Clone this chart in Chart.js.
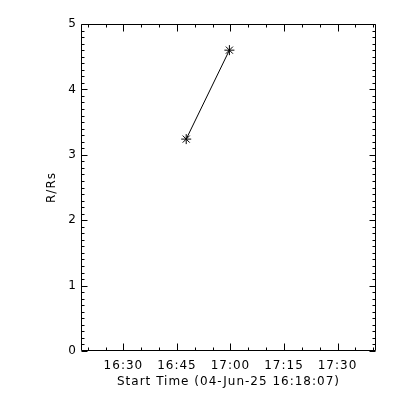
<!DOCTYPE html>
<html>
<head>
<meta charset="utf-8">
<script src="https://cdn.jsdelivr.net/npm/chart.js@4"></script>
<style>
  html, body { margin: 0; padding: 0; background: #fff; }
  canvas { display: block; }
</style>
</head>
<body>
<canvas id="myChart" width="400" height="400"></canvas>
<script>
const START_TIME = '16:18:07';
const END_TIME = '17:40:47';
const TIMES = ['16:47:36', '16:59:42'];
const HEIGHTS = [3.24, 4.6];
const X_LABELS = ['16:30', '16:45', '17:00', '17:15', '17:30'];
const Y_TICKS = [0, 1, 2, 3, 4, 5];
const X_TITLE = 'Start Time (04-Jun-25 16:18:07)';
const Y_TITLE = 'R/Rs';

const FONT = { family: 'DejaVu Sans', size: 12 };

function toSeconds(t) {
  const parts = t.split(':').map(Number);
  return parts[0] * 3600 + parts[1] * 60 + (parts[2] || 0);
}

const START = toSeconds(START_TIME);
const END = toSeconds(END_TIME) - START;
const X_MAJOR = X_LABELS.map((l) => toSeconds(l) - START);

// minor ticks every 5 minutes
let X_MINOR = [];
for (let s = Math.ceil(START / 300) * 300; s - START < END; s += 300) {
  X_MINOR.push(s - START);
}
let Y_MINOR = [];
for (let i = 0; i <= 50; i++) {
  Y_MINOR.push(i / 10);
}

const points = TIMES.map((t, i) => ({ x: toSeconds(t) - START, y: HEIGHTS[i] }));

// wider letter spacing, closer to the IDL vector font
const spacing = {
  id: 'spacing',
  beforeDraw(chart) {
    chart.ctx.letterSpacing = '1px';
  },
  afterDraw(chart) {
    chart.ctx.letterSpacing = '0px';
  },
};

// IDL style box with inward ticks on all sides
const frameTicks = {
  id: 'frameTicks',
  afterDraw(chart) {
    const { ctx, chartArea: a, scales: { x, y } } = chart;
    const L = Math.round(a.left) + 0.5;
    const R = Math.round(a.right) - 0.5;
    const T = Math.round(a.top) + 0.5;
    const B = Math.round(a.bottom) - 0.5;
    ctx.save();
    ctx.strokeStyle = '#000';
    ctx.lineWidth = 1;
    ctx.beginPath();
    ctx.rect(L, T, R - L, B - T);

    X_MINOR.forEach((v) => {
      const px = Math.round(x.getPixelForValue(v)) + 0.5;
      const len = X_MAJOR.includes(v) ? 7 : 3;
      ctx.moveTo(px, B); ctx.lineTo(px, B - len);
      ctx.moveTo(px, T); ctx.lineTo(px, T + len);
    });
    Y_MINOR.forEach((v, i) => {
      const py = Math.round(y.getPixelForValue(v)) + 0.5;
      const len = i % 10 === 0 ? 6 : 3;
      ctx.moveTo(L, py); ctx.lineTo(L + len, py);
      ctx.moveTo(R, py); ctx.lineTo(R - len, py);
    });
    ctx.stroke();
    ctx.restore();
  },
};

new Chart(document.getElementById('myChart').getContext('2d'), {
  type: 'scatter',
  data: {
    datasets: [
      {
        data: points,
        showLine: true,
        borderColor: '#000',
        borderWidth: 1,
        pointStyle: 'star',
        pointRadius: 5,
        pointBorderColor: '#000',
        pointBorderWidth: 1,
        pointBackgroundColor: '#000',
      },
    ],
  },
  options: {
    responsive: false,
    animation: false,
    layout: { padding: { left: 0, right: 24, top: 24, bottom: 0 } },
    plugins: { legend: { display: false }, tooltip: { enabled: false } },
    scales: {
      x: {
        type: 'linear',
        min: 0,
        max: END,
        grid: { display: false, drawTicks: false },
        border: { display: false },
        afterBuildTicks: (scale) => {
          scale.ticks = X_MAJOR.map((v) => ({ value: v }));
        },
        afterFit: (scale) => {
          scale.height = 49;
        },
        ticks: {
          font: FONT,
          color: '#000',
          padding: 8,
          maxRotation: 0,
          autoSkip: false,
          callback: (v) => X_LABELS[X_MAJOR.indexOf(v)],
        },
        title: {
          display: true,
          text: X_TITLE,
          font: FONT,
          color: '#000',
          padding: { top: 0, bottom: 11 },
        },
      },
      y: {
        min: 0,
        max: 5,
        grid: { display: false, drawTicks: false },
        border: { display: false },
        afterBuildTicks: (scale) => {
          scale.ticks = Y_TICKS.map((v) => ({ value: v }));
        },
        afterFit: (scale) => {
          scale.width = 81;
        },
        ticks: {
          font: FONT,
          color: '#000',
          padding: 4,
          callback: (v) => String(v),
        },
        title: {
          display: true,
          text: Y_TITLE,
          font: FONT,
          color: '#000',
          padding: { top: 45, bottom: 0 },
        },
      },
    },
  },
  plugins: [spacing, frameTicks],
});
</script>
</body>
</html>
